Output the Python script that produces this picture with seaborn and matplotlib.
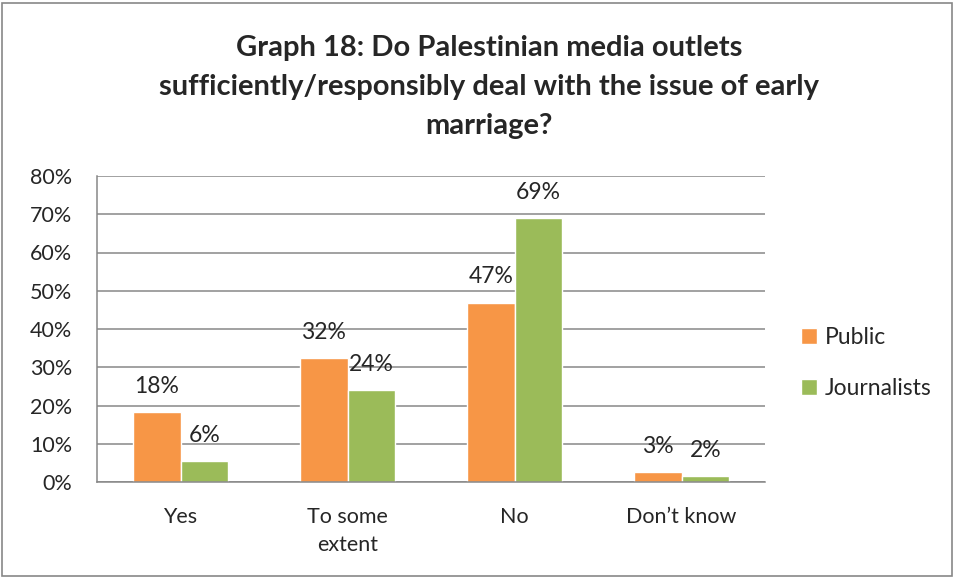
import matplotlib
matplotlib.use("Agg")
import matplotlib.pyplot as plt
import matplotlib.ticker as mtick
from matplotlib.patches import Rectangle
import pandas as pd
import seaborn as sns

# data
categories = ["Yes", "To some\nextent", "No", "Don\u2019t know"]
public = [0.183, 0.324, 0.469, 0.026]
journalists = [0.055, 0.240, 0.689, 0.015]
series = ["Public", "Journalists"]
colors = ["#F79646", "#9BBB59"]

df = pd.DataFrame({
    "answer": categories * 2,
    "share": public + journalists,
    "group": [series[0]] * 4 + [series[1]] * 4,
})

sns.set_style("white")
plt.rcParams["font.family"] = ["Lato", "DejaVu Sans"]

fig = plt.figure(figsize=(9.56, 5.77), dpi=100)
ax = fig.add_axes([97 / 956, 95 / 577, 668 / 956, 306 / 577])

sns.barplot(data=df, x="answer", y="share", hue="group", palette=colors,
            width=0.57, saturation=1, ax=ax, legend=True)

ax.set_ylim(0, 0.8)
ax.set_xlim(-0.5, 3.5)
ax.yaxis.set_major_locator(mtick.MultipleLocator(0.1))
ax.yaxis.set_major_formatter(mtick.PercentFormatter(1.0, decimals=0))
ax.grid(axis="y", color="#878787", linewidth=1.1)
ax.set_axisbelow(True)
ax.set_xlabel("")
ax.set_ylabel("")

for side in ["top", "right"]:
    ax.spines[side].set_visible(False)
for side in ["left", "bottom"]:
    ax.spines[side].set_color("#878787")
    ax.spines[side].set_linewidth(1.1)

# category boundary ticks like Excel
ax.set_xticks([-0.5, 0.5, 1.5, 2.5, 3.5], minor=True)
ax.tick_params(axis="x", which="major", length=0, labelsize=15.5, pad=18)
ax.tick_params(axis="x", which="minor", length=7, color="#878787", width=1.1)
ax.tick_params(axis="y", length=6, color="#878787", width=1.1, labelsize=15.5, pad=12)
for lbl in ax.get_xticklabels():
    lbl.set_linespacing(1.5)

# value labels above the bars
for cont in ax.containers:
    ax.bar_label(cont, labels=[f"{v * 100:.0f}%" for v in cont.datavalues],
                 padding=11, fontsize=16.5)

handles, labels = ax.get_legend_handles_labels()
ax.legend(handles, labels, loc="center left", bbox_to_anchor=(780 / 956, 1 - 363 / 577),
          bbox_transform=fig.transFigure, frameon=False, fontsize=16.5,
          handlelength=0.7, handleheight=0.7, labelspacing=1.3, handletextpad=0.35)

fig.text(489 / 956, 1 - 87 / 577,
         "Graph 18: Do Palestinian media outlets\n"
         "sufficiently/responsibly deal with the issue of early\n"
         "marriage?",
         ha="center", va="center", fontsize=21, fontweight="bold",
         linespacing=1.62)

# outer chart border
fig.patches.append(Rectangle((0.002, 0.002), 0.994, 0.992, transform=fig.transFigure,
                             fill=False, edgecolor="#878787", linewidth=1.2))

fig.savefig("out.png", dpi=100)
